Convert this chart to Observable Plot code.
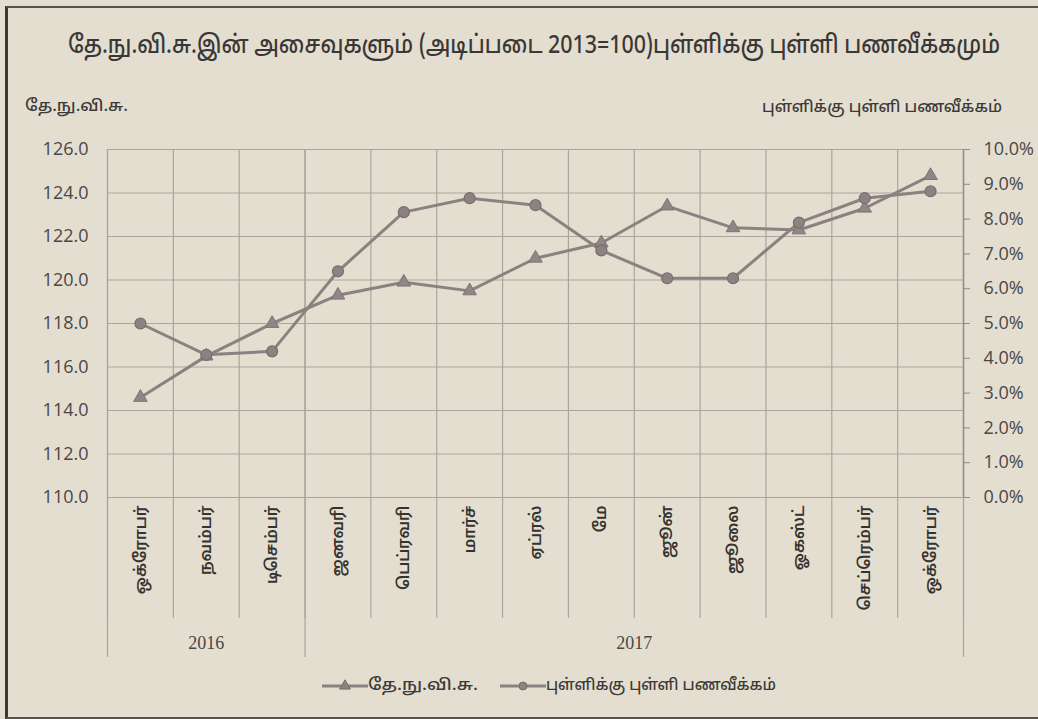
<!DOCTYPE html>
<html>
<head>
<meta charset="utf-8">
<script src="https://cdn.jsdelivr.net/npm/d3@7"></script>
<script src="https://cdn.jsdelivr.net/npm/@observablehq/plot@0.6"></script>
<style>
  html, body { margin: 0; padding: 0; background: #e4ded1; }
  #wrap { position: relative; width: 1038px; height: 719px; overflow: hidden; background: #e4ded1;
          font-family: "Noto Sans Tamil", "Noto Sans", "Lato", sans-serif; color: #3c3a38; }
  #frame { position: absolute; left: 5px; top: 6px; width: 1060px; height: 709px;
           border-left: 3px solid #3a3836; border-top: 2px solid #55524f; border-bottom: 2px solid #55524f; }
  .abs { position: absolute; white-space: nowrap; line-height: 1; }
  .fit { display: inline-block; transform-origin: 0 50%; white-space: nowrap; }
  #title { left: 68px; top: 34px; font-size: 25px; font-weight: 500; color: #3a3836; }
  #ylab { left: 25px; top: 99px; font-size: 16px; font-weight: 500; }
  #y2lab { left: 762px; top: 100px; font-size: 16px; font-weight: 500; }
  #legend { left: 322px; top: 678px; font-size: 16px; font-weight: 500; }
  #chart { position: absolute; left: 0; top: 0; }
</style>
</head>
<body>
<div id="wrap">
  <div id="frame"></div>
  <div id="chart"></div>
  <div class="abs" id="title"></div>
  <div class="abs" id="ylab"></div>
  <div class="abs" id="y2lab"></div>
  <div class="abs" id="legend"></div>
</div>
<script>
const months = ["ஒக்ரோபர்","நவம்பர்","டிசெம்பர்","ஜனவரி","பெப்ரவரி","மார்ச்","ஏப்ரல்","மே","ஜூன்","ஜூலை","ஓகஸ்ட்","செப்ரெம்பர்","ஒக்ரோபர்"];
const ccpi = [114.6, 116.5, 118.0, 119.3, 119.9, 119.5, 121.0, 121.7, 123.4, 122.4, 122.3, 123.3, 124.8];
const inflation = [5.0, 4.1, 4.2, 6.5, 8.2, 8.6, 8.4, 7.1, 6.3, 6.3, 7.9, 8.6, 8.8];
const leftTicks = [110, 112, 114, 116, 118, 120, 122, 124, 126];
const rightTicks = [0, 1, 2, 3, 4, 5, 6, 7, 8, 9, 10];
const years = ["2016", "2017"];
const yearCounts = [3, 10];
const titleText = "தே.நு.வி.சு.இன் அசைவுகளும் (அடிப்படை 2013=100)புள்ளிக்கு புள்ளி பணவீக்கமும்";
const seriesNames = ["தே.நு.வி.சு.", "புள்ளிக்கு புள்ளி பணவீக்கம்"];

const yMin = 110, yMax = 126, pMin = 0, pMax = 10;
const toLeft = p => yMin + (p - pMin) * (yMax - yMin) / (pMax - pMin);
const fromLeft = v => (v - yMin) * (pMax - pMin) / (yMax - yMin) + pMin;

const rows = months.map((m, i) => ({i: i + 0.5, month: m, ccpi: ccpi[i], infl: toLeft(inflation[i])}));
const bounds = d3.range(months.length + 1);
let acc = 0;
const yearGroups = years.map((y, k) => { const s = acc; acc += yearCounts[k]; return {year: y, start: s, end: acc, mid: (s + acc) / 2}; });
const groupBounds = [0, ...yearGroups.map(g => g.end)];

const grid = "#aaa59c";
const lineCol = "#8b8180";
const textCol = "#4a4745";
const font = "\"Noto Sans Tamil\", \"Noto Sans\", sans-serif";

const chart = Plot.plot({
  width: 1038,
  height: 719,
  marginLeft: 107,
  marginRight: 75,
  marginTop: 149,
  marginBottom: 222,
  style: {background: "transparent", fontFamily: font, color: textCol, overflow: "visible"},
  x: {type: "linear", domain: [0, months.length]},
  y: {domain: [yMin, yMax]},
  marks: [
    Plot.gridY(leftTicks, {stroke: grid, strokeOpacity: 1, strokeWidth: 1.2}),
    Plot.ruleX(bounds, {stroke: grid, strokeWidth: 1.2, insetBottom: -121}),
    Plot.ruleX(groupBounds, {stroke: grid, strokeWidth: 1.2, insetBottom: -160}),
    Plot.ruleX([months.length], {stroke: "#8e8a84", strokeWidth: 1.3}),
    Plot.axisY(leftTicks, {anchor: "left", tickSize: 0, tickPadding: 19, tickFormat: d3.format(".1f"),
      fontSize: 18, fontFamily: "Open Sans, sans-serif", fill: textCol, label: null}),
    Plot.axisY(rightTicks.map(toLeft), {anchor: "right", tickSize: 6, tickPadding: 14,
      tickFormat: v => fromLeft(v).toFixed(1) + "%", stroke: "#8e8a84",
      fontSize: 18, fontFamily: "Open Sans, sans-serif", fill: textCol, label: null}),
    Plot.axisX(rows.map(r => r.i), {anchor: "bottom", tickSize: 0, tickPadding: 8, tickRotate: -90,
      tickFormat: (d) => months[Math.floor(d)], fontSize: 16, fontWeight: 600, fontFamily: font, fill: "#35332f", label: null}),
    Plot.text(yearGroups, {x: "mid", text: "year", frameAnchor: "bottom", dy: 151,
      fontFamily: "Liberation Serif, serif", fontSize: 18, fill: textCol}),
    Plot.line(rows, {x: "i", y: "ccpi", stroke: lineCol, strokeWidth: 3}),
    Plot.line(rows, {x: "i", y: "infl", stroke: lineCol, strokeWidth: 3}),
    Plot.dot(rows, {x: "i", y: "ccpi", symbol: "triangle", r: 5, fill: "#908686", stroke: "#7c7372", strokeWidth: 1}),
    Plot.dot(rows, {x: "i", y: "infl", symbol: "circle", r: 5.5, fill: "#8c8282", stroke: "#766d6c", strokeWidth: 1.2})
  ]
});
document.getElementById("chart").appendChild(chart);

function fitText(parent, text, target) {
  const s = document.createElement("span");
  s.className = "fit";
  s.textContent = text;
  parent.appendChild(s);
  const w = s.getBoundingClientRect().width;
  s.style.transform = `scaleX(${target / w})`;
  return s;
}
fitText(document.getElementById("title"), titleText, 932);
fitText(document.getElementById("ylab"), seriesNames[0], 103);
fitText(document.getElementById("y2lab"), seriesNames[1], 240);

const leg = document.getElementById("legend");
const syms = [d3.symbolTriangle, d3.symbolCircle];
const legTextW = [110, 230];
const legLeft = [0, 178];
seriesNames.forEach((n, k) => {
  const s = d3.create("svg").attr("width", 46).attr("height", 14)
    .style("position", "absolute").style("left", legLeft[k] + "px").style("top", "1px");
  s.append("line").attr("x1", 0).attr("x2", 46).attr("y1", 7).attr("y2", 7).attr("stroke", lineCol).attr("stroke-width", 3);
  s.append("path").attr("transform", "translate(23,7)")
    .attr("d", d3.symbol(syms[k], 50)())
    .attr("fill", "#8c8282").attr("stroke", "#766d6c");
  leg.appendChild(s.node());
  const holder = document.createElement("div");
  holder.style.position = "absolute";
  holder.style.left = (legLeft[k] + 46) + "px";
  holder.style.top = "0px";
  leg.appendChild(holder);
  fitText(holder, n, legTextW[k]);
});
</script>
</body>
</html>
